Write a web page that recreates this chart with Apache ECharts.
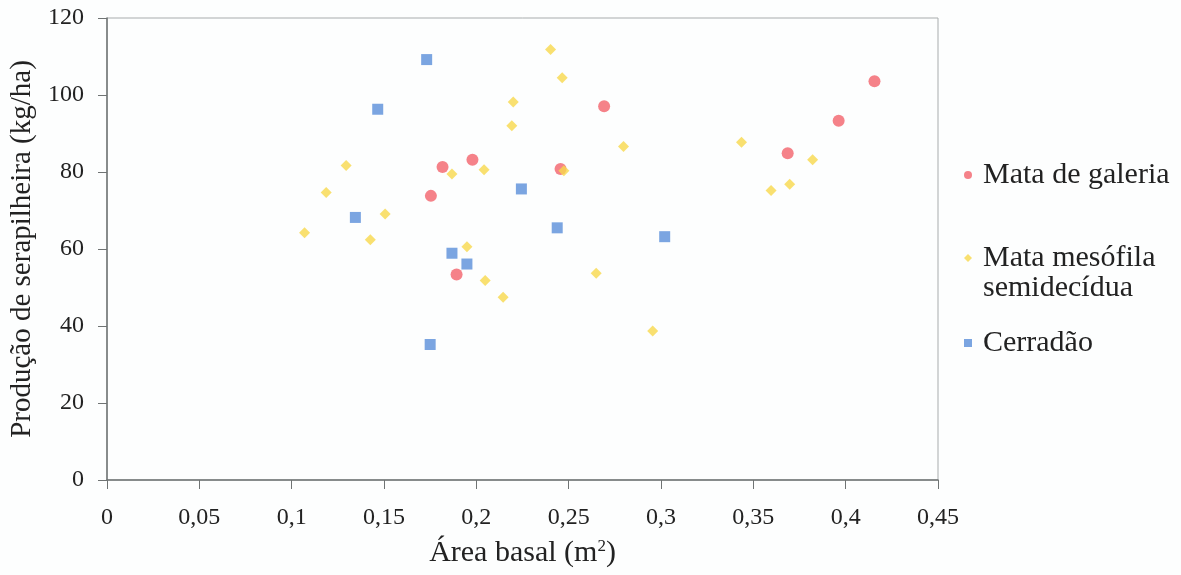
<!DOCTYPE html>
<html>
<head>
<meta charset="utf-8">
<script src="https://cdn.jsdelivr.net/npm/echarts@6/dist/echarts.min.js"></script>
<style>
  html, body { margin: 0; padding: 0; background: #fdfefe; }
  #chart { width: 1181px; height: 575px; }
</style>
</head>
<body>
<div id="chart"></div>
<script>
// Mata de galeria: [area basal, producao]
const galeria = [
  [0.1754, 73.8], [0.1817, 81.3], [0.1979, 83.2], [0.1893, 53.4], [0.2456, 80.8],
  [0.2692, 97.1], [0.3686, 84.9], [0.3962, 93.3], [0.4156, 103.6]
]
// Mata mesofila semidecidua
const mesofila = [
  [0.107, 64.2], [0.1187, 74.7], [0.1295, 81.7], [0.1426, 62.4], [0.1506, 69.1],
  [0.2402, 111.8], [0.2465, 104.5], [0.2200, 98.2], [0.2192, 92.0], [0.2797, 86.6],
  [0.1868, 79.5], [0.2042, 80.6], [0.2474, 80.3], [0.1949, 60.6], [0.2048, 51.8],
  [0.2649, 53.7], [0.2145, 47.5], [0.2955, 38.7], [0.3436, 87.7], [0.3821, 83.2],
  [0.3596, 75.2], [0.3697, 76.8]
]
// Cerradao
const cerradao = [
  [0.1466, 96.3], [0.1345, 68.2], [0.1731, 109.2], [0.2244, 75.6], [0.2438, 65.5],
  [0.3020, 63.2], [0.1868, 58.9], [0.1949, 56.1], [0.1750, 35.2]
]
const seriesNames = ['Mata de galeria', 'Mata mesófila semidecídua', 'Cerradão']

const font = '"Liberation Serif", "DejaVu Serif", serif'
const chart = echarts.init(document.getElementById('chart'))

const legendText = { fontFamily: font, fontSize: 30, color: '#222', padding: [0, 0, 0, 6] }

const option = {
  backgroundColor: '#fdfefe',
  animation: false,
  textStyle: { fontFamily: font },
  grid: {
    left: 107, top: 18, right: 243, bottom: 95,
    show: true, borderColor: '#a8acad', borderWidth: 1, backgroundColor: 'transparent'
  },
  legend: [
    {
      orient: 'vertical', left: 964, top: 160, padding: 0,
      data: [seriesNames[0]],
      itemWidth: 8, itemHeight: 8,
      textStyle: legendText
    },
    {
      orient: 'vertical', left: 964, top: 243, padding: 0,
      data: [seriesNames[1]],
      itemWidth: 8, itemHeight: 8,
      formatter: () => 'Mata mesófila',
      textStyle: legendText
    },
    {
      orient: 'vertical', left: 964, top: 328, padding: 0,
      data: [seriesNames[2]],
      itemWidth: 8, itemHeight: 8,
      textStyle: legendText
    }
  ],
  graphic: [{
    type: 'text', left: 983, top: 273,
    style: { text: 'semidecídua', font: '30px ' + font, fill: '#222' }
  }],
  xAxis: {
    type: 'value', min: 0, max: 0.45, interval: 0.05,
    name: '{a|Área basal (m}{s|2}{a|)}',
    nameLocation: 'middle', nameGap: 58,
    nameTextStyle: {
      rich: {
        a: { fontFamily: font, fontSize: 30, color: '#222' },
        s: { fontFamily: font, fontSize: 17, color: '#222', verticalAlign: 'top', padding: [0, 0, 14, 0] }
      }
    },
    axisLine: { show: true, lineStyle: { color: '#6f7373', width: 1.5 } },
    axisTick: { show: true, length: 9, lineStyle: { color: '#6f7373' } },
    splitLine: { show: false },
    axisLabel: {
      margin: 26, fontSize: 24, color: '#222', fontFamily: font,
      formatter: v => String(+v.toFixed(2)).replace('.', ',')
    }
  },
  yAxis: {
    type: 'value', min: 0, max: 120, interval: 20,
    name: 'Produção de serapilheira (kg/ha)',
    nameLocation: 'middle', nameGap: 57,
    nameTextStyle: { fontFamily: font, fontSize: 29, color: '#222' },
    axisLine: { show: true, lineStyle: { color: '#6f7373', width: 1.5 } },
    axisTick: { show: true, length: 9, lineStyle: { color: '#6f7373' } },
    splitLine: { show: false },
    axisLabel: { margin: 23, fontSize: 24, color: '#222', fontFamily: font }
  },
  series: [
    {
      name: seriesNames[0], type: 'scatter', data: galeria,
      symbol: 'circle', symbolSize: 12,
      itemStyle: { color: '#f2636c' }, z: 3
    },
    {
      name: seriesNames[1], type: 'scatter', data: mesofila,
      symbol: 'diamond', symbolSize: 11,
      itemStyle: { color: '#f7d84c' }, z: 4
    },
    {
      name: seriesNames[2], type: 'scatter', data: cerradao,
      symbol: 'rect', symbolSize: 11,
      itemStyle: { color: '#5a8fd9' }, z: 2
    }
  ]
}

chart.setOption(option)
</script>
</body>
</html>
